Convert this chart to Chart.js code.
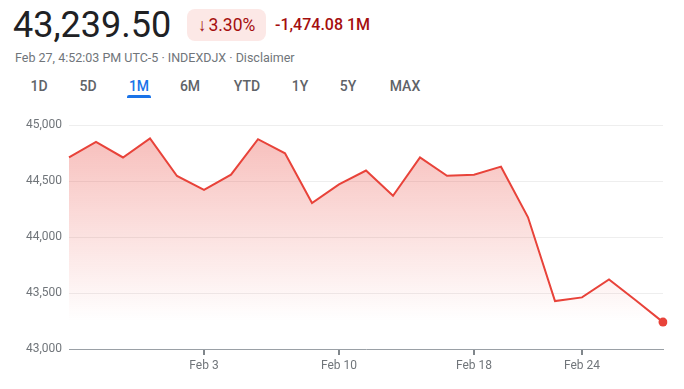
<!DOCTYPE html>
<html><head><meta charset="utf-8">
<script src="https://cdn.jsdelivr.net/npm/chart.js@4"></script>
<style>
html,body{margin:0;padding:0;background:#fff;width:684px;height:389px;overflow:hidden;font-family:Roboto,Arial,sans-serif;}
.abs{position:absolute;white-space:nowrap;}
#price{left:13px;top:7px;font-size:36px;line-height:36px;color:#202124;}
#badge{left:187px;top:9px;width:79px;height:32px;background:#fce8e6;border-radius:8px;color:#a50e0e;font-size:17.5px;line-height:32px;text-align:center;}
#badge .ar{font-weight:300;margin-right:2px;}
#chg{left:275px;top:8px;font-size:16px;line-height:33px;color:#a50e0e;font-weight:500;}
#sub{left:15px;top:50px;font-size:12.5px;line-height:16px;color:#70757a;}
.tab{position:absolute;top:77px;font-size:14px;line-height:18px;color:#5f6368;font-weight:500;transform:translateX(-50%);}
.tab.on{color:#1a73e8;}
#ul{left:127px;top:95px;width:24px;height:3px;background:#1a73e8;border-radius:2px 2px 0 0;}
#wrap{position:absolute;left:0;top:110px;width:684px;height:279px;}
</style></head><body>
<div class="abs" id="price">43,239.50</div>
<div class="abs" id="badge"><span class="ar">↓</span>3.30%</div>
<div class="abs" id="chg">-1,474.08 1M</div>
<div class="abs" id="sub">Feb 27, 4:52:03 PM UTC-5 · INDEXDJX · Disclaimer</div>
<div class="tab" style="left:39px">1D</div>
<div class="tab" style="left:88px">5D</div>
<div class="tab on" style="left:139px">1M</div>
<div class="tab" style="left:190px">6M</div>
<div class="tab" style="left:247px">YTD</div>
<div class="tab" style="left:300px">1Y</div>
<div class="tab" style="left:348px">5Y</div>
<div class="tab" style="left:405px">MAX</div>
<div class="abs" id="ul"></div>
<div id="wrap"><canvas id="c"></canvas></div>
<script>
const dates = ["Jan 27","Jan 28","Jan 29","Jan 30","Jan 31","Feb 3","Feb 4","Feb 5","Feb 6","Feb 7","Feb 10","Feb 11","Feb 12","Feb 13","Feb 14","Feb 18","Feb 19","Feb 20","Feb 21","Feb 24","Feb 25","Feb 26","Feb 27"];
const closes = [44710,44850,44710,44880,44545,44420,44556,44873,44747,44303,44470,44593,44368,44711,44546,44556,44628,44176,43428,43461,43621,43433,43240];
const shownDates = ["Feb 3","Feb 10","Feb 18","Feb 24"];
const yTicks = [43000,43500,44000,44500,45000];

const red = '#e8433a';
new Chart(document.getElementById('c'), {
  type: 'line',
  data: {
    labels: dates,
    datasets: [{
      data: closes,
      borderColor: red,
      borderWidth: 2,
      tension: 0,
      fill: 'start',
      backgroundColor: (ctx) => {
        const ca = ctx.chart.chartArea;
        if (!ca) return 'rgba(232,67,58,0.3)';
        const g = ctx.chart.ctx.createLinearGradient(0, ca.top, 0, ca.bottom - 28);
        g.addColorStop(0, 'rgba(232,67,58,0.36)');
        g.addColorStop(1, 'rgba(232,67,58,0)');
        return g;
      },
      pointRadius: (ctx) => ctx.dataIndex === closes.length - 1 ? 4.5 : 0,
      pointBackgroundColor: red,
      pointBorderWidth: 0,
      pointHoverRadius: 0
    }]
  },
  options: {
    responsive: true,
    maintainAspectRatio: false,
    animation: false,
    layout: { padding: { top: 15, right: 21, left: 0, bottom: 0 } },
    plugins: { legend: { display: false }, tooltip: { enabled: false } },
    scales: {
      x: {
        offset: false,
        afterFit: (s) => { s.height = 40; },
        border: { display: true, color: '#9aa0a6', width: 1 },
        grid: {
          drawOnChartArea: false,
          drawTicks: true,
          tickLength: 6,
          color: (ctx) => shownDates.includes(dates[ctx.index]) ? '#80868b' : 'rgba(0,0,0,0)',
          lineWidth: 2
        },
        ticks: {
          autoSkip: false,
          maxRotation: 0,
          padding: 4,
          color: '#70757a',
          font: { family: 'Roboto', size: 12 },
          callback: (v, i) => shownDates.includes(dates[i]) ? dates[i] : ''
        }
      },
      y: {
        min: 43000, max: 45000,
        afterFit: (s) => { s.width = 69; },
        afterBuildTicks: (s) => { s.ticks = yTicks.map(v => ({ value: v })); },
        border: { display: false },
        grid: { color: '#eeeeee', drawTicks: false, lineWidth: 1 },
        ticks: {
          padding: 7,
          color: '#70757a',
          font: { family: 'Roboto', size: 12 },
          callback: (v) => v.toLocaleString('en-US')
        }
      }
    }
  }
});
</script>
</body></html>
